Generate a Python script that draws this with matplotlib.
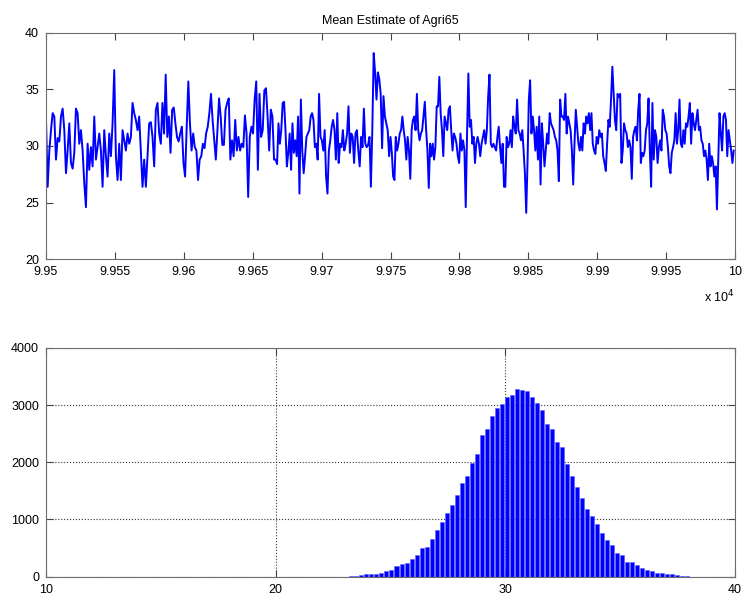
import numpy as np
import matplotlib
matplotlib.use('Agg')
import matplotlib.pyplot as plt

plt.rcParams['font.family'] = ['Liberation Sans', 'DejaVu Sans']

# trace of the last 500 draws, read in six equal stretches of the x axis
seg1 = [32.3, 26.4, 29.6, 31.4, 32.9, 32.6, 28.8, 30.7, 30.4, 32.6, 33.3, 31.4, 27.6, 29.6,
        32.0, 28.5, 28.0, 29.4, 33.3, 32.9, 30.2, 31.4, 29.6, 26.7, 24.6, 30.2, 27.9, 29.9,
        28.2, 32.6, 28.8, 29.9, 31.1, 29.6, 26.4, 31.4, 29.1, 27.3, 31.1, 29.1, 32.0, 36.7,
        29.1, 27.0, 30.2, 27.0, 31.4, 30.5, 29.6, 31.1, 30.2, 30.8, 33.8, 32.9, 32.3, 31.4,
        32.6, 29.6, 26.4, 28.8, 26.4, 29.1, 32.0, 32.1, 30.8, 28.2, 33.2, 33.8, 31.1]
seg2 = [30.2, 33.8, 31.1, 36.3, 30.8, 32.6, 29.4, 33.2, 33.4, 32.0, 30.8, 30.4, 31.1, 31.7,
        28.5, 27.3, 31.7, 35.7, 32.0, 29.6, 31.1, 29.9, 29.6, 27.0, 28.8, 29.1, 30.2, 29.8,
        31.1, 31.7, 32.9, 34.6, 32.3, 30.5, 28.8, 31.4, 34.2, 32.6, 30.1, 30.1, 33.2, 33.8,
        34.2, 28.8, 30.5, 29.1, 32.3, 29.6, 30.8, 29.6, 30.2, 29.9, 32.7, 31.1, 25.5, 30.8,
        31.7, 31.1, 34.1, 35.7, 27.9, 34.6, 30.8, 31.4, 34.9, 35.1, 32.6, 29.6, 33.2, 32.6, 28.8]
seg3 = [28.8, 28.4, 32.0, 30.2, 31.4, 33.8, 33.9, 31.4, 28.2, 29.4, 31.1, 27.9, 32.0, 29.4,
        30.5, 29.1, 32.6, 25.8, 34.1, 29.6, 27.6, 29.1, 30.8, 31.1, 31.4, 32.6, 32.9, 32.3,
        29.9, 30.2, 28.8, 34.6, 30.8, 30.5, 29.6, 31.4, 27.3, 25.8, 29.6, 30.5, 31.7, 32.3,
        31.4, 28.8, 32.9, 28.5, 30.2, 29.9, 31.4, 29.6, 30.2, 31.1, 33.5, 29.4, 31.1, 30.8,
        28.5, 31.1, 31.4, 29.6, 28.2, 30.8, 29.9, 33.3, 30.2, 29.9, 30.1, 30.8, 26.4, 31.4,
        38.2, 36.5, 34.1, 36.5, 35.9, 34.6, 29.8, 34.4, 32.6, 32.0, 31.4, 29.1]
seg4 = [30.8, 29.4, 27.3, 27.0, 30.8, 29.6, 30.2, 31.1, 31.4, 32.6, 31.4, 30.5, 28.8, 30.8,
        29.6, 27.1, 31.4, 32.3, 32.6, 31.4, 34.6, 31.4, 30.5, 31.1, 31.4, 32.6, 33.9, 31.4,
        29.6, 26.3, 30.2, 29.1, 30.2, 28.8, 29.9, 33.5, 33.5, 36.1, 32.9, 31.4, 29.1, 32.6,
        32.0, 31.4, 33.2, 33.5, 31.4, 29.6, 31.1, 30.8, 30.2, 29.1, 28.5, 31.1, 29.6, 30.5,
        29.6, 24.6, 31.1, 36.4, 31.7, 32.3, 30.2, 30.8, 28.5, 30.2, 30.8, 30.2, 29.1, 30.2,
        30.8, 31.4, 30.2, 31.4, 34.4, 36.3, 30.2, 29.9, 30.2, 29.9, 29.6, 30.8, 31.7, 29.9,
        28.5, 30.2, 26.4]
seg5 = [26.4, 30.8, 29.9, 30.2, 31.4, 29.9, 32.6, 31.7, 31.1, 34.1, 31.4, 31.1, 30.5, 31.4,
        29.6, 27.6, 24.1, 28.5, 34.1, 35.8, 31.1, 32.6, 31.4, 29.6, 31.7, 28.8, 32.6, 26.6,
        32.0, 30.2, 28.2, 29.6, 31.1, 30.2, 32.9, 32.0, 31.7, 31.4, 30.8, 30.5, 29.6, 26.9,
        34.1, 32.6, 32.6, 32.3, 34.6, 31.1, 32.6, 32.0, 31.4, 29.6, 26.6, 30.2, 33.2, 31.7,
        30.2, 29.6, 30.8, 29.6, 32.0, 31.1, 32.6, 32.0, 32.9, 31.4, 32.9, 30.2, 29.6, 29.3,
        30.8, 30.2, 31.4, 30.8, 31.1, 29.1, 28.5, 27.8, 30.2, 32.3, 31.7, 34.1, 37.0, 34.6,
        32.3, 31.4, 34.6, 34.3]
seg6 = [34.6, 28.5, 29.6, 32.0, 31.4, 31.1, 29.9, 30.5, 29.9, 27.1, 30.8, 31.4, 31.7, 30.5,
        33.2, 34.6, 28.5, 29.4, 29.1, 29.6, 31.4, 32.0, 34.2, 29.6, 26.4, 33.8, 28.8, 31.4,
        30.8, 28.5, 29.9, 30.5, 29.6, 33.2, 32.6, 31.4, 31.1, 29.9, 28.2, 27.6, 29.4, 29.9,
        30.5, 32.9, 30.2, 31.4, 34.1, 30.2, 29.9, 31.4, 30.2, 32.0, 31.7, 32.6, 33.8, 30.2,
        32.9, 32.0, 31.4, 32.3, 33.2, 31.4, 31.7, 30.5, 30.2, 29.1, 29.6, 28.8, 27.0, 30.2,
        28.2, 29.1, 28.5, 27.3, 28.2, 24.4, 28.8, 32.9, 31.1, 29.6, 32.6, 32.9, 32.3, 29.1,
        31.4, 30.5, 29.6, 28.5, 29.6]
segments = [seg1, seg2, seg3, seg4, seg5, seg6]
iter_start, iter_end = 99500, 100000

# histogram of all draws
hist_lo, hist_hi = 23.3, 37.9
counts = [15, 20, 30, 45, 45, 45, 70, 93, 120, 187, 215, 240, 315, 385, 495, 513, 653, 810,
          950, 1108, 1253, 1434, 1638, 1755, 1988, 2145, 2472, 2583, 2810, 2950, 3014, 3148,
          3177, 3288, 3270, 3241, 3148, 3032, 2915, 2670, 2577, 2355, 2274, 1965, 1766, 1574,
          1382, 1189, 1067, 927, 758, 641, 548, 420, 373, 262, 250, 198, 157, 122, 105, 58,
          58, 47, 47, 29, 17, 17]

top_xticks = [99500, 99550, 99600, 99650, 99700, 99750, 99800, 99850, 99900, 99950, 100000]
top_xlabels = ['9.95', '9.955', '9.96', '9.965', '9.97', '9.975', '9.98', '9.985', '9.99', '9.995', '10']

# build iteration axis per stretch
edges = np.linspace(iter_start, iter_end, len(segments) + 1)
it = []
vals = []
for k, s in enumerate(segments):
    it.extend(np.linspace(edges[k], edges[k + 1], len(s), endpoint=False))
    vals.extend(s)

spine_c = '#6e6e6e'
fig = plt.figure(figsize=(7.45, 6.01), dpi=100)
ax1 = fig.add_axes([46 / 745, 1 - 259.3 / 601, 689 / 745, 226.6 / 601])
ax2 = fig.add_axes([46 / 745, 1 - 576.7 / 601, 689 / 745, 228.9 / 601])

ax1.plot(it, vals, color='#0000ff', lw=1.4)
ax1.set_xlim(iter_start, iter_end)
ax1.set_ylim(20, 40)
ax1.set_yticks([20, 25, 30, 35, 40])
ax1.set_xticks(top_xticks)
ax1.set_xticklabels(top_xlabels)
ax1.set_title('Mean Estimate of Agri65', fontsize=9, pad=6)
ax1.text(1.0, -0.165, r'x 10$^4$', transform=ax1.transAxes, ha='right', va='center', fontsize=9)

centers = np.linspace(hist_lo, hist_hi, len(counts))
pitch = centers[1] - centers[0]
ax2.bar(centers, counts, width=pitch * 0.8, color='#0000ff', edgecolor='#6060ff', linewidth=0.4, zorder=2)
ax2.set_xlim(10, 40)
ax2.set_ylim(0, 4000)
ax2.set_xticks([10, 20, 30, 40])
ax2.set_yticks([0, 1000, 2000, 3000, 4000])
ax2.grid(True, linestyle=':', color='#333333', linewidth=0.8, zorder=0)
ax2.set_axisbelow(True)

for ax in (ax1, ax2):
    for sp in ax.spines.values():
        sp.set_color(spine_c)
    ax.tick_params(direction='in', top=True, right=True, length=5, color='#444444',
                   labelsize=9, pad=5)

fig.savefig('out.png', dpi=100)
